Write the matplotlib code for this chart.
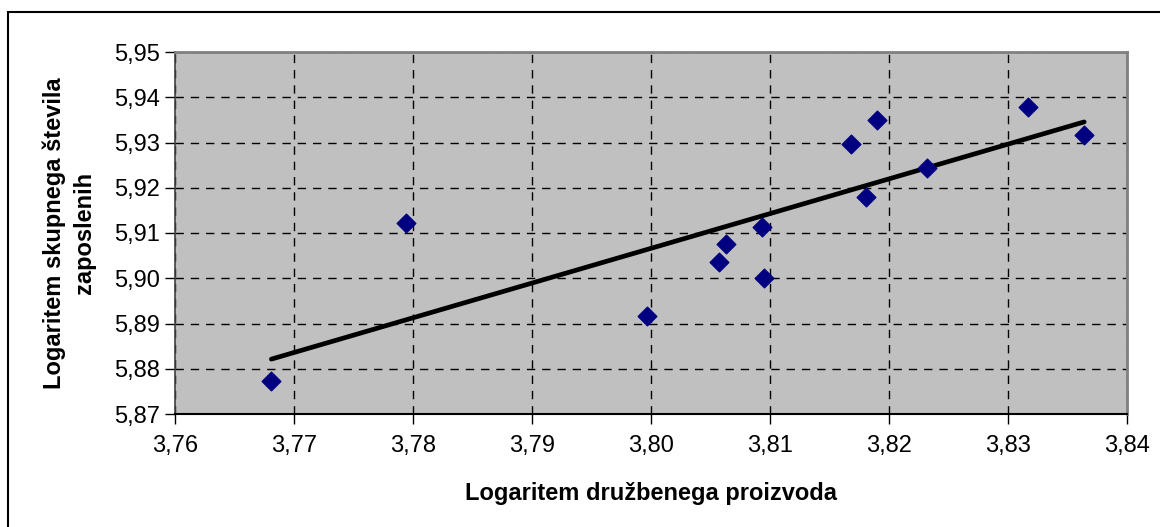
import numpy as np
import matplotlib
matplotlib.use("Agg")
import matplotlib.pyplot as plt
from matplotlib.ticker import FuncFormatter
from matplotlib.patches import Rectangle

# podatki odčitani s slike
log_gdp = [3.7681, 3.7794, 3.7997, 3.8057, 3.8063, 3.8093, 3.8095,
           3.8168, 3.8190, 3.8181, 3.8232, 3.8317, 3.8364]
log_emp = [5.8773, 5.9123, 5.8916, 5.9037, 5.9075, 5.9114, 5.9000,
           5.9297, 5.9350, 5.9180, 5.9244, 5.9379, 5.9317]

x_ticks = [3.76, 3.77, 3.78, 3.79, 3.80, 3.81, 3.82, 3.83, 3.84]
y_ticks = [5.87, 5.88, 5.89, 5.90, 5.91, 5.92, 5.93, 5.94, 5.95]

plt.rcParams['font.family'] = ['Liberation Sans', 'DejaVu Sans']

fig = plt.figure(figsize=(11.6, 5.27), dpi=100)
fig.patches.append(Rectangle((8 / 1160, -0.1), 1.2, 1 - 12 / 527 + 0.1,
                             transform=fig.transFigure, fill=False,
                             edgecolor='black', linewidth=1.5))

ax = fig.add_axes([175 / 1160, 1 - 414 / 527, 952 / 1160, 362 / 527])
ax.set_facecolor('#c0c0c0')

# trend (linearna regresija)
k, n = np.polyfit(log_gdp, log_emp, 1)
xs = np.array([min(log_gdp), max(log_gdp)])
ax.plot(xs, k * xs + n, color='black', linewidth=3.4, solid_capstyle='round', zorder=3)

ax.scatter(log_gdp, log_emp, marker='D', s=90, color='#000080', zorder=4)

ax.set_xlim(3.76, 3.84)
ax.set_ylim(5.87, 5.95)
ax.set_xticks(x_ticks)
ax.set_yticks(y_ticks)
ax.xaxis.set_major_formatter(FuncFormatter(lambda v, p: ('%.2f' % v).replace('.', ',')))
ax.yaxis.set_major_formatter(FuncFormatter(lambda v, p: ('%.2f' % v).replace('.', ',')))
ax.tick_params(labelsize=17, length=7, width=1, direction='out', pad=4)
ax.tick_params(axis='x', pad=8)

ax.grid(True, color='black', linestyle=(0, (6, 5)), linewidth=1)
ax.set_axisbelow(True)

ax.spines['top'].set_color('#808080')
ax.spines['right'].set_color('#808080')
ax.spines['top'].set_linewidth(2)
ax.spines['right'].set_linewidth(2)
ax.spines['left'].set_color('#404040')
ax.spines['bottom'].set_color('black')
ax.spines['left'].set_linewidth(1.2)
ax.spines['bottom'].set_linewidth(1.5)

ax.set_xlabel('Logaritem družbenega proizvoda', fontsize=17, fontweight='bold', labelpad=18)
ax.set_ylabel('Logaritem skupnega števila\nzaposlenih', fontsize=17, fontweight='bold',
              labelpad=13, linespacing=1.35)

fig.savefig('out.png', dpi=100)
